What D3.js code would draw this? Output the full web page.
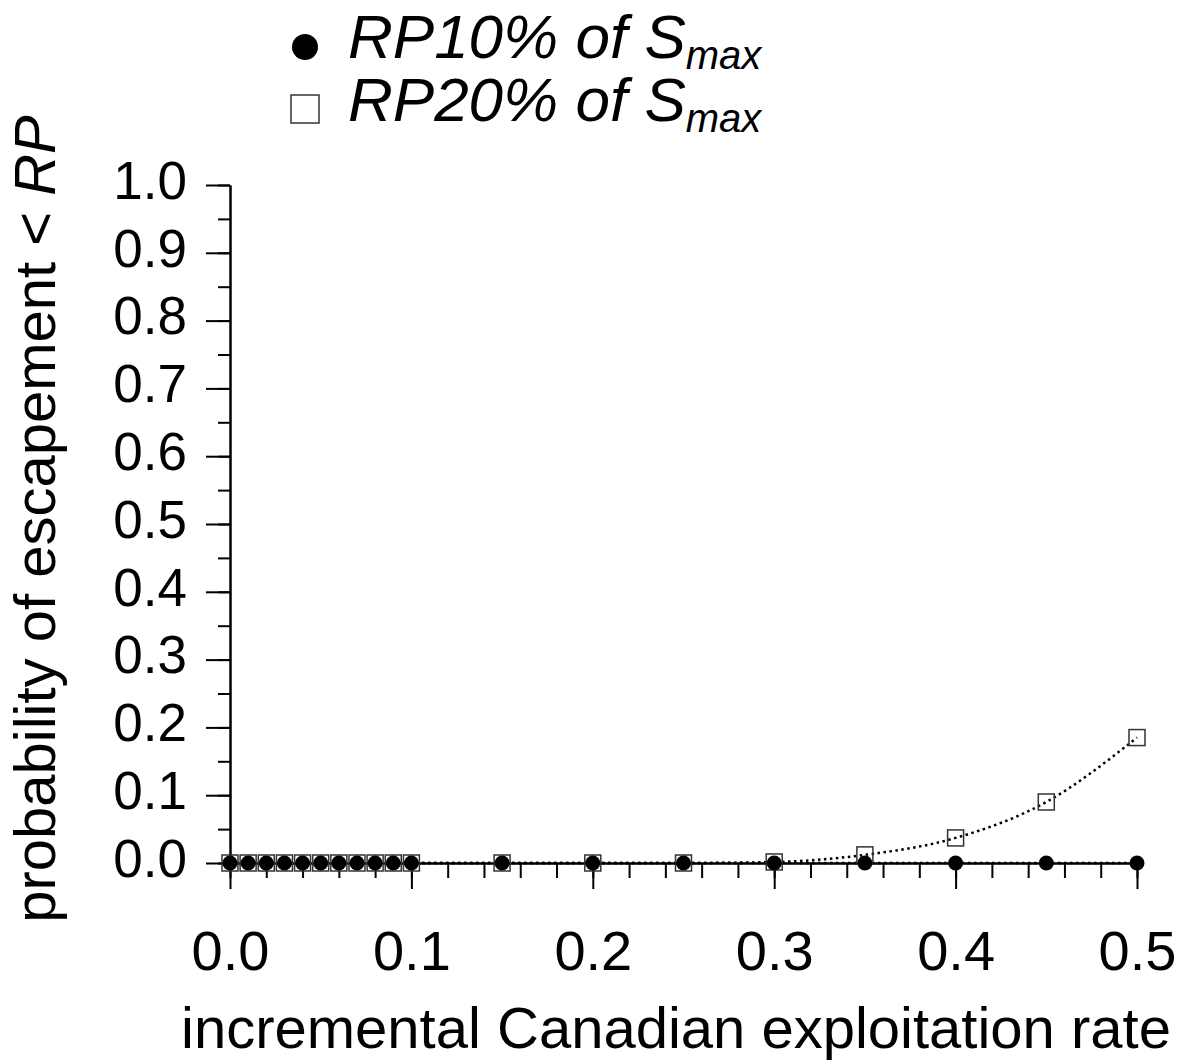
<!DOCTYPE html>
<meta charset="utf-8">
<title>escapement probability</title>
<script src="https://cdn.jsdelivr.net/npm/d3@7"></script>
<style>
body { margin: 0; background: #fff; }
text { font-family: "Liberation Sans", Arial, sans-serif; fill: #000; }
.axis path, .axis line { stroke: #000; stroke-width: 2px; }
.axis text { font-size: 54px; }
</style>
<body>
<script>

// exploitation rates sampled
var rates = [0, 0.01, 0.02, 0.03, 0.04, 0.05, 0.06, 0.07, 0.08, 0.09, 0.1,
             0.15, 0.2, 0.25, 0.3, 0.35, 0.4, 0.45, 0.5];
// probability escapement < RP (10% of Smax)
var rp10 = [0, 0, 0, 0, 0, 0, 0, 0, 0, 0, 0,
            0, 0, 0, 0, 0, 0, 0, 0];
// probability escapement < RP (20% of Smax)
var rp20 = [0, 0, 0, 0, 0, 0, 0, 0, 0, 0, 0,
            0, 0, 0, 0.0015, 0.012, 0.037, 0.09, 0.185];

var xMajor = [0, 0.1, 0.2, 0.3, 0.4, 0.5];
var yMajor = [0, 0.1, 0.2, 0.3, 0.4, 0.5, 0.6, 0.7, 0.8, 0.9, 1.0];
var legendLabels = ["RP10% of S", "RP20% of S"];

var width = 1192, height = 1063;

var svg = d3.select("body").append("svg")
    .attr("width", width)
    .attr("height", height);

var x = d3.scaleLinear().domain([0, 0.5]).range([230, 1137]);
var y = d3.scaleLinear().domain([0, 1]).range([863, 185]);

// minor ticks first
svg.append("g")
    .attr("class", "axis")
    .attr("transform", "translate(0," + y(0) + ")")
    .call(d3.axisBottom(x).tickValues(d3.range(0, 26).map(function(i){ return i / 50; }))
          .tickSize(15).tickSizeOuter(0).tickFormat(""));

svg.append("g")
    .attr("class", "axis")
    .attr("transform", "translate(" + x(0) + ",0)")
    .call(d3.axisLeft(y).tickValues(d3.range(0, 21).map(function(i){ return i / 20; }))
          .tickSize(12).tickSizeOuter(0).tickFormat(""));

var xAxis = svg.append("g")
    .attr("class", "axis")
    .attr("transform", "translate(0," + y(0) + ")")
    .call(d3.axisBottom(x).tickValues(xMajor).tickSize(26).tickSizeOuter(0)
          .tickPadding(41).tickFormat(d3.format(".1f")));
xAxis.selectAll("text").style("font-size", "56px");

var yAxis = svg.append("g")
    .attr("class", "axis")
    .attr("transform", "translate(" + x(0) + ",0)")
    .call(d3.axisLeft(y).tickValues(yMajor).tickSize(24).tickSizeOuter(0)
          .tickPadding(19).tickFormat(d3.format(".1f")));
yAxis.selectAll("text").attr("dy", "0.25em").style("font-size", "53px");

svg.selectAll(".axis path.domain").attr("fill", "none");

// axis titles
svg.append("text")
    .attr("x", 676)
    .attr("y", 1048)
    .attr("text-anchor", "middle")
    .style("font-size", "58px")
    .text("incremental Canadian exploitation rate");

var yTitle = svg.append("text")
    .attr("transform", "translate(55,519) rotate(-90)")
    .attr("text-anchor", "middle")
    .style("font-size", "58px");
yTitle.append("tspan").text("probability of escapement < ");
yTitle.append("tspan").style("font-style", "italic").text("RP");

// lines
var line = d3.line()
    .x(function(d){ return x(d[0]); })
    .y(function(d){ return y(d[1]); })
    .curve(d3.curveMonotoneX);

var s20 = rates.map(function(r, i){ return [r, rp20[i]]; });
var s10 = rates.map(function(r, i){ return [r, rp10[i]]; });

[s20, s10].forEach(function(s){
  svg.append("path")
      .datum(s)
      .attr("d", line)
      .attr("fill", "none")
      .attr("stroke", "#000")
      .attr("stroke-width", 2.5)
      .attr("stroke-dasharray", "2.5,3.5");
});

// squares
svg.append("g").selectAll("rect")
    .data(s20)
    .enter().append("rect")
    .attr("x", function(d){ return x(d[0]) - 8; })
    .attr("y", function(d){ return y(d[1]) - 8; })
    .attr("width", 16)
    .attr("height", 16)
    .attr("fill", "none")
    .attr("stroke", "#333")
    .attr("stroke-width", 1.5);

// circles
svg.append("g").selectAll("circle")
    .data(s10)
    .enter().append("circle")
    .attr("cx", function(d){ return x(d[0]); })
    .attr("cy", function(d){ return y(d[1]); })
    .attr("r", 7.5)
    .attr("fill", "#000");

// legend
svg.append("circle")
    .attr("cx", 305).attr("cy", 47).attr("r", 13).attr("fill", "#000");
svg.append("rect")
    .attr("x", 291).attr("y", 95).attr("width", 28).attr("height", 28)
    .attr("fill", "#fff").attr("stroke", "#333").attr("stroke-width", 1.5);

legendLabels.forEach(function(lab, i){
  var t = svg.append("text")
      .attr("x", 348)
      .attr("y", 58 + i * 63)
      .style("font-style", "italic")
      .style("font-size", "62px");
  t.append("tspan").text(lab);
  t.append("tspan").attr("dy", 11).style("font-size", "40px").text("max");
});

</script>
</body>
</html>
